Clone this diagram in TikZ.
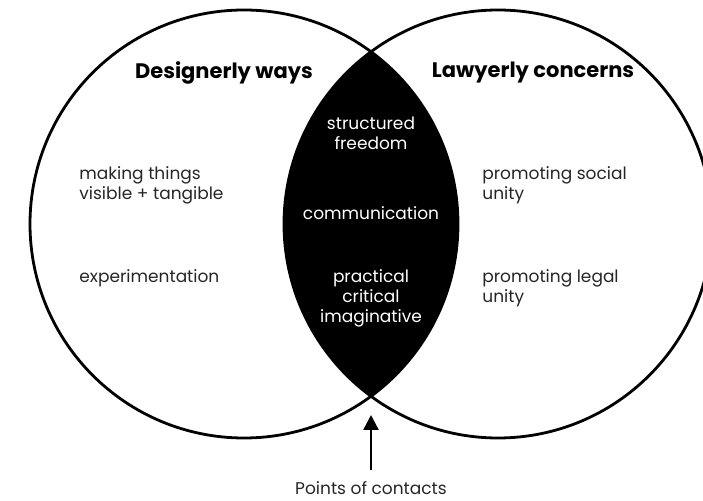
\documentclass[tikz,border=0pt]{standalone}
\usepackage{fontspec}
\setmainfont{Poppins}
\usetikzlibrary{arrows.meta,positioning}
\begin{document}
\begin{tikzpicture}[x=1pt, y=1pt, line width=2.8pt]
  \tikzstyle{every node}=[font=\fontsize{17}{20}\selectfont, text=black!85, inner sep=0pt]
  \tikzstyle{head}=[font=\fontsize{21}{24}\selectfont\bfseries, text=black]
  \tikzstyle{side}=[anchor=west, align=left]
  \tikzstyle{mid}=[align=center, text=white]
  \useasboundingbox (0,0) rectangle (703,500);

  % Circles
  \coordinate (designer) at (244,276);
  \coordinate (lawyer) at (498,276);
  \begin{scope}
    \clip (designer) circle (214);
    \fill[black] (lawyer) circle (214);
  \end{scope}
  \draw (designer) circle (214);
  \draw (lawyer) circle (214);
  \coordinate (touch) at (371,103);

  % Labels
  \node (designhead) [head] at (224,427) {Designerly ways};
  \node (lawhead) [head] at (533,427) {Lawyerly concerns};

  \node (freedom) [mid] at (371,367) {structured\\freedom};
  \node (comm) [mid] at (371,287) {communication};
  \node (practical) [mid] at (371,202) {practical\\critical\\imaginative};

  \node (visible) [side] at (78,315) {making things\\visible + tangible};
  \node (experiment) [side] at (78,222) {experimentation};
  \node (social) [side] at (481,315) {promoting social\\unity};
  \node (legal) [side] at (481,212) {promoting legal\\unity};

  \node (contacts) at (371,12) {Points of contacts};

  % Arrow
  \draw[-{Triangle[length=15pt,width=15pt]}, line width=2.5pt, shorten <=10pt, shorten >=18pt]
    (contacts.north) -- (touch);
\end{tikzpicture}
\end{document}
